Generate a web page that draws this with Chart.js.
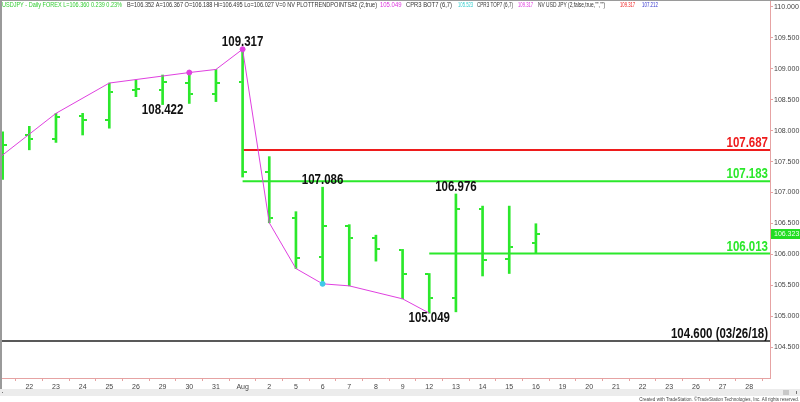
<!DOCTYPE html>
<html>
<head>
<meta charset="utf-8">
<script src="https://cdn.jsdelivr.net/npm/chart.js@4.4.1/dist/chart.umd.min.js"></script>
<style>
  html, body { margin: 0; padding: 0; background: #fff; }
  #chart { display: block; }
</style>
</head>
<body>
<canvas id="chart" width="800" height="402"></canvas>
<script>
// --- Daten: USDJPY Tageskerzen 19. Juli – 16. August 2019 ---
const dateLabels = ['19', '22', '23', '24', '25', '26', '29', '30', '31', 'Aug', '2', '5', '6', '7',
  '8', '9', '12', '13', '14', '15', '16', '19', '20', '21', '22', '23', '26', '27', '28'];

const opens  = [107.31, 107.93, 107.86, 108.24, 108.17, 108.65, 108.66, 108.77, 108.60, 108.78, 107.33,
  106.58, 105.95, 106.46, 106.27, 106.07, 105.68, 105.30, 106.74, 105.92, 106.188];
const highs  = [107.98, 108.07, 108.28, 108.28, 108.77, 108.82, 108.90, 108.94, 108.99, 109.317, 107.58,
  106.69, 107.086, 106.48, 106.31, 106.08, 105.69, 106.976, 106.78, 106.78, 106.495];
const lows   = [107.21, 107.69, 107.81, 107.93, 108.04, 108.55, 108.422, 108.44, 108.47, 107.25, 106.51,
  105.77, 105.523, 105.49, 105.89, 105.28, 105.049, 105.07, 105.65, 105.69, 106.027];
const closes = [107.77, 107.86, 108.22, 108.17, 108.63, 108.68, 108.79, 108.60, 108.77, 107.33, 106.59,
  105.94, 106.46, 106.27, 106.08, 105.68, 105.30, 106.74, 105.91, 106.12, 106.323];

// Trendpunkte (Zickzack-Linie), Index -1 liegt links außerhalb des Bildes
const trendIndex  = [-1, 2, 4, 7, 8, 9, 10, 11, 12, 13, 15, 16];
const trendValues = [107.27, 108.28, 108.77, 108.94, 108.99, 109.317, 106.51, 105.77, 105.523, 105.49, 105.28, 105.049];

// CPR-Punkte
const cprTopIndex = [7, 9];
const cprTopValues = [108.94, 109.317];
const cprBotIndex = [12];
const cprBotValues = [105.523];

// Horizontale Niveaus
const levelValues = [107.687, 107.183, 106.013, 104.600];
const levelStart  = [9, 9, 16, -1];
const levelTexts  = ['107.687', '107.183', '106.013', '104.600 (03/26/18)'];

// Beschriftete Hochs/Tiefs
const pivotIndex  = [9, 6, 12, 17, 16];
const pivotValues = [109.317, 108.422, 107.086, 106.976, 105.049];

const yTicks = [104.5, 105.0, 105.5, 106.0, 106.5, 107.0, 107.5, 108.0, 108.5, 109.0, 109.5, 110.0];

const headerParts = [
  ['USDJPY - Daily FOREX L=106.360 0.239 0.23%', '#33cc33'],
  ['B=106.352 A=106.367 O=106.188 Hi=106.495 Lo=106.027 V=0 NV PLOTTRENDPOINTS#2 (2,true)', '#333333'],
  ['105.049', '#dd33dd'],
  ['CPR3 BOT7 (6,7)', '#333333'],
  ['105.523', '#33cccc'],
  ['CPR3 TOP7 (6,7)', '#333333'],
  ['109.317', '#dd33dd'],
  ['NV USD JPY (2,false,true,"","")', '#333333'],
  ['109.317', '#ee2222'],
  ['107.212', '#3333cc'],
];
const footerText = 'Created with TradeStation. \u00A9TradeStation Technologies, Inc. All rights reserved.';

// --- Stile ---
const GRUEN = '#2be82b';
const ROT = '#ee1c1c';
const MAGENTA = '#e040e0';
const ACHSE = '#e6a3a3';
const SANS = '"Liberation Sans", Arial, sans-serif';
// Schmalschrift gibt es nicht, daher horizontal stauchen
const STAUCHUNG = 0.82;
// Kopfzeilen-Abschnitte: Start- und Endpixel wie im Original
const KOPF_BOXEN = [[2, 122], [127, 377], [380, 403], [406, 452], [458, 472], [477, 513],
  [518, 533], [538, 605], [620, 630], [642, 658]];

function schmalText(ctx, text, x, y, faktor = STAUCHUNG) {
  ctx.save();
  ctx.translate(x, y);
  ctx.scale(faktor, 1);
  ctx.fillText(text, 0, 0);
  ctx.restore();
  return ctx.measureText(text).width * faktor;
}

// Tick-Bildchen für Open (links) und Close (rechts)
function tickBild(links) {
  const c = document.createElement('canvas');
  c.width = 8; c.height = 2;
  const g = c.getContext('2d');
  g.fillStyle = GRUEN;
  g.fillRect(links ? 0 : 5, 0, 3, 2);
  return c;
}
const openBild = tickBild(true);
const closeBild = tickBild(false);

const barData   = highs.map((h, i) => ({ x: i, y: [lows[i], h] }));
const openData  = opens.map((v, i) => ({ x: i, y: v }));
const closeData = closes.map((v, i) => ({ x: i, y: v }));
const trendData = trendIndex.map((x, i) => ({ x, y: trendValues[i] }));

const levelDatasets = levelValues.map((v, i) => ({
  type: 'line',
  data: [{ x: levelStart[i], y: v }, { x: 29, y: v }],
  borderColor: i === 0 ? ROT : (i === 3 ? '#222222' : GRUEN),
  borderWidth: i === 3 ? 1.5 : 2,
  pointRadius: 0,
  order: 5,
}));

// Achsen ohne Extra-Innenabstand, damit der Plotbereich exakt sitzt
function achseOhnePadding(axis) {
  axis.paddingTop = 0;
  axis.paddingBottom = 0;
  axis.paddingLeft = 0;
  axis.paddingRight = 0;
}

// --- Zusatz-Zeichnungen: Kopfzeile, Beschriftungen, Rahmen ---
const dekorPlugin = {
  id: 'dekor',
  beforeDraw(chart) {
    const { ctx, width, height } = chart;
    ctx.save();
    ctx.fillStyle = '#ffffff';
    ctx.fillRect(0, 0, width, height);
    // Scrollleiste unten
    ctx.fillStyle = '#ececec';
    ctx.fillRect(0, 389, width, 7);
    ctx.fillStyle = '#c8c8c8';
    ctx.fillRect(783, 390, 6, 5);
    ctx.fillStyle = '#777';
    ctx.fillRect(796, 391, 1, 3);
    ctx.fillRect(2, 392, 1, 1);
    // Rahmen links und oben
    ctx.fillStyle = '#9a9a9a';
    ctx.fillRect(0, 0, 2, 389);
    ctx.fillRect(0, 0, width, 1);
    ctx.restore();
  },
  afterDatasetsDraw(chart) {
    const { ctx, chartArea } = chart;
    const x = chart.scales.x, y = chart.scales.y;
    ctx.save();
    ctx.font = 'bold 14px ' + SANS;
    ctx.textBaseline = 'alphabetic';
    ctx.textAlign = 'left';

    // Niveau-Beschriftungen rechts (rechtsbündig)
    levelValues.forEach((v, i) => {
      ctx.fillStyle = i === 0 ? ROT : (i === 3 ? '#111111' : GRUEN);
      const w = ctx.measureText(levelTexts[i]).width * STAUCHUNG;
      schmalText(ctx, levelTexts[i], chartArea.right - 2 - w, y.getPixelForValue(v) - 3);
    });

    // Hoch/Tief-Beschriftungen
    ctx.fillStyle = '#111111';
    pivotIndex.forEach((idx, i) => {
      const v = pivotValues[i];
      const text = v.toFixed(3);
      const w = ctx.measureText(text).width * STAUCHUNG;
      const px = x.getPixelForValue(idx) - w / 2;
      const py = y.getPixelForValue(v);
      schmalText(ctx, text, px, v === highs[idx] ? py - 3 : py + 9);
    });

    // Letzter Kurs auf der Achse
    const letzter = closes[closes.length - 1];
    const ly = Math.round(y.getPixelForValue(letzter));
    ctx.fillStyle = '#22dd22';
    ctx.fillRect(chartArea.right + 1, ly - 5, 30, 10);
    ctx.fillStyle = '#f4fff4';
    ctx.font = '7px ' + SANS;
    ctx.textBaseline = 'middle';
    ctx.fillText(letzter.toFixed(3), chartArea.right + 4, ly);
    ctx.restore();
  },
  afterDraw(chart) {
    const { ctx } = chart;
    ctx.save();
    ctx.font = '7px ' + SANS;
    ctx.textBaseline = 'middle';
    ctx.textAlign = 'left';
    headerParts.forEach(([text, farbe], i) => {
      const [von, bis] = KOPF_BOXEN[i];
      // an die Originalbreite anpassen, aber nicht unleserlich stauchen
      const faktor = Math.min(0.85, Math.max(0.6, (bis - von) / ctx.measureText(text).width));
      ctx.fillStyle = farbe;
      schmalText(ctx, text, von, 5, faktor);
    });
    ctx.font = '5.5px ' + SANS;
    ctx.fillStyle = '#444';
    const w = ctx.measureText(footerText).width * STAUCHUNG;
    schmalText(ctx, footerText, 799 - w, 399);
    ctx.restore();
  },
};

new Chart(document.getElementById('chart'), {
  type: 'bar',
  data: {
    datasets: [
      {
        type: 'bar',
        data: barData,
        backgroundColor: GRUEN,
        borderWidth: 0,
        barThickness: 2,
        grouped: false,
        order: 3,
      },
      {
        type: 'scatter',
        data: openData,
        pointStyle: openBild,
        order: 2,
      },
      {
        type: 'scatter',
        data: closeData,
        pointStyle: closeBild,
        order: 2,
      },
      ...levelDatasets,
      {
        type: 'line',
        data: trendData,
        borderColor: MAGENTA,
        borderWidth: 1,
        pointRadius: 0,
        tension: 0,
        order: 1,
      },
      {
        type: 'scatter',
        data: cprTopIndex.map((x, i) => ({ x, y: cprTopValues[i] })),
        backgroundColor: MAGENTA,
        borderColor: MAGENTA,
        pointRadius: 2.5,
        order: 0,
      },
      {
        type: 'scatter',
        data: cprBotIndex.map((x, i) => ({ x, y: cprBotValues[i] })),
        backgroundColor: '#3fc8e8',
        borderColor: '#3fc8e8',
        pointRadius: 2.5,
        order: 0,
      },
    ],
  },
  options: {
    responsive: false,
    animation: false,
    events: [],
    layout: { autoPadding: false, padding: { left: 2, top: 1, right: 0, bottom: 0 } },
    plugins: {
      legend: { display: false },
      tooltip: { enabled: false },
    },
    scales: {
      x: {
        type: 'linear',
        position: 'bottom',
        min: -0.024,
        max: 28.78,
        offset: false,
        afterBuildTicks: (axis) => {
          axis.ticks = dateLabels.map((_, i) => ({ value: i })).slice(1);
        },
        afterFit: (axis) => { axis.height = 24; achseOhnePadding(axis); },
        grid: { drawOnChartArea: false, color: ACHSE, tickLength: 3 },
        border: { color: ACHSE, width: 1 },
        ticks: {
          autoSkip: false,
          maxRotation: 0,
          padding: 2,
          color: '#444',
          font: { family: SANS, size: 7 },
          callback: (v) => dateLabels[v],
        },
      },
      y: {
        type: 'linear',
        position: 'right',
        min: 104.0,
        max: 110.097,
        afterBuildTicks: (axis) => {
          axis.ticks = yTicks.map(v => ({ value: v }));
        },
        afterFit: (axis) => { axis.width = 30; achseOhnePadding(axis); },
        grid: { drawOnChartArea: false, color: ACHSE, tickLength: 3 },
        border: { color: ACHSE, width: 1 },
        ticks: {
          padding: 1,
          color: '#444',
          font: { family: SANS, size: 7 },
          callback: (v) => Number(v).toFixed(3),
        },
      },
    },
  },
  plugins: [dekorPlugin],
});
</script>
</body>
</html>
